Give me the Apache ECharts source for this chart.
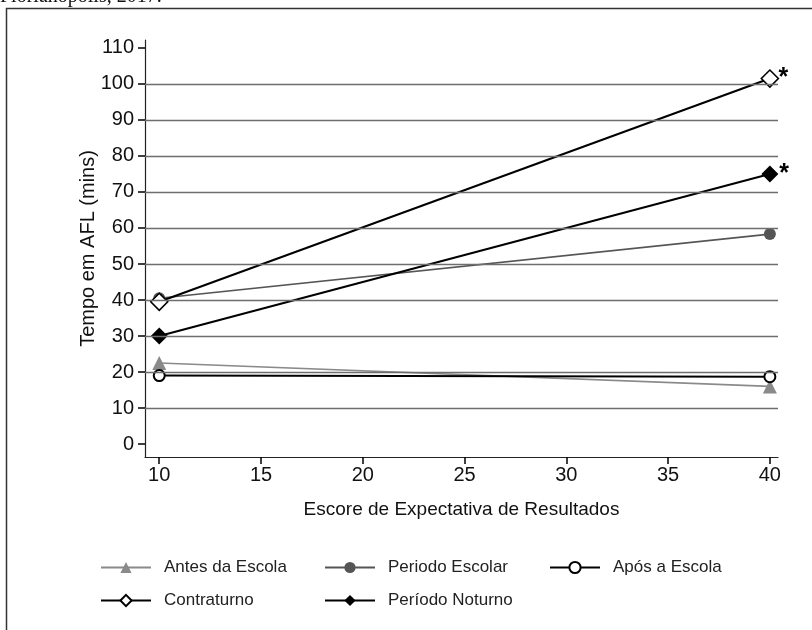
<!DOCTYPE html>
<html><head><meta charset="utf-8">
<script src="https://cdn.jsdelivr.net/npm/echarts@6/dist/echarts.min.js"></script>
<style>html,body{margin:0;padding:0;background:#fff}#c{width:812px;height:630px}</style>
</head><body><div id="c"></div>
<script>
const xTicks = [10, 15, 20, 25, 30, 35, 40];
const yTicks = [0, 10, 20, 30, 40, 50, 60, 70, 80, 90, 100, 110];
const gridValues = [10, 20, 30, 40, 50, 60, 70, 80, 90, 100];
const scores = [10, 40];
const antesEscola = [22.5, 16];
const periodoEscolar = [40.5, 58.3];
const aposEscola = [19, 18.7];
const contraturno = [39.5, 101.5];
const periodoNoturno = [30, 75];
const significant = { 'Contraturno': [false, true], 'Período Noturno': [false, true] };

const FONT = 'Liberation Sans, Arial, sans-serif';
function mk(name, vals, color, lw, symbol, size, fill, bw) {
  const sig = significant[name] || [];
  return {
    name, type: 'line', data: scores.map((x, i) => {
      const d = { value: [x, vals[i]] };
      if (sig[i]) d.label = { show: true, formatter: '*', position: [18, -4], fontSize: 25, fontWeight: 'bold', color: '#000', fontFamily: FONT };
      return d;
    }),
    lineStyle: { color, width: lw }, itemStyle: { color: fill, borderColor: color, borderWidth: bw },
    symbol, symbolSize: size, showSymbol: true, animation: false, z: 3
  };
}
const series = [
  mk('Antes da Escola', antesEscola, '#8a8a8a', 1.6, 'triangle', 14, '#8a8a8a', 0),
  mk('Periodo Escolar', periodoEscolar, '#555555', 1.6, 'circle', 12, '#555555', 0),
  mk('Após a Escola', aposEscola, '#000', 2, 'circle', 11, '#fff', 2),
  mk('Contraturno', contraturno, '#000', 2, 'diamond', 17, '#fff', 1.6),
  mk('Período Noturno', periodoNoturno, '#000', 2, 'diamond', 17, '#000', 0)
];
series.push({
  type: 'line', data: [], silent: true,
  markLine: { symbol: 'none', silent: true, label: { show: false }, animation: false,
    lineStyle: { color: '#6e6e6e', width: 1.4, type: 'solid' },
    data: gridValues.map(v => ({ yAxis: v })) }, z: 1
});
const legendPos = [
  ['Antes da Escola', 95, 554], ['Periodo Escolar', 319, 554], ['Após a Escola', 544, 554],
  ['Contraturno', 95, 587], ['Período Noturno', 319, 587]
];
const chart = echarts.init(document.getElementById('c'));
chart.setOption({
  animation: false,
  grid: { left: 145, right: 34, top: 40, bottom: 173 },
  xAxis: { type: 'value', min: 9.3, max: 40.4,
    name: 'Escore de Expectativa de Resultados', nameLocation: 'middle', nameGap: 43, nameMoveOverlap: false,
    nameTextStyle: { fontSize: 19, color: '#111', fontFamily: FONT },
    axisLine: { show: true, onZero: false, lineStyle: { color: '#222', width: 1.2 } },
    axisTick: { show: true, length: 7, customValues: xTicks, lineStyle: { color: '#000', width: 1.5 } },
    axisLabel: { customValues: xTicks, fontSize: 20, color: '#111', fontFamily: FONT, margin: 8 },
    splitLine: { show: false } },
  yAxis: { type: 'value', min: -3.6, max: 112.2,
    name: 'Tempo em AFL (mins)', nameLocation: 'middle', nameGap: 47, nameRotate: 90, nameMoveOverlap: false,
    nameTextStyle: { fontSize: 20, color: '#111', fontFamily: FONT },
    axisLine: { show: true, onZero: false, lineStyle: { color: '#222', width: 1.2 } },
    axisTick: { show: true, length: 7, customValues: yTicks, lineStyle: { color: '#000', width: 1.5 } },
    axisLabel: { customValues: yTicks, fontSize: 20, color: '#111', fontFamily: FONT, margin: 11 },
    splitLine: { show: false } },
  legend: legendPos.map(([n, l, t]) => ({
    data: [n], left: l, top: t, itemWidth: 50, itemHeight: 14, itemGap: 10,
    textStyle: { fontSize: 17, color: '#222', fontFamily: FONT, padding: [0, 0, 0, 8] }
  })),
  graphic: [
    { type: 'rect', shape: { x: 6.5, y: 8.5, width: 900, height: 700 }, style: { fill: 'none', stroke: '#333', lineWidth: 1.5 } },
    { type: 'text', left: 0, top: -13, style: { text: 'Florianópolis, 2017.', font: '20px "Liberation Serif", serif', fill: '#111' } }
  ],
  series
});
</script></body></html>
